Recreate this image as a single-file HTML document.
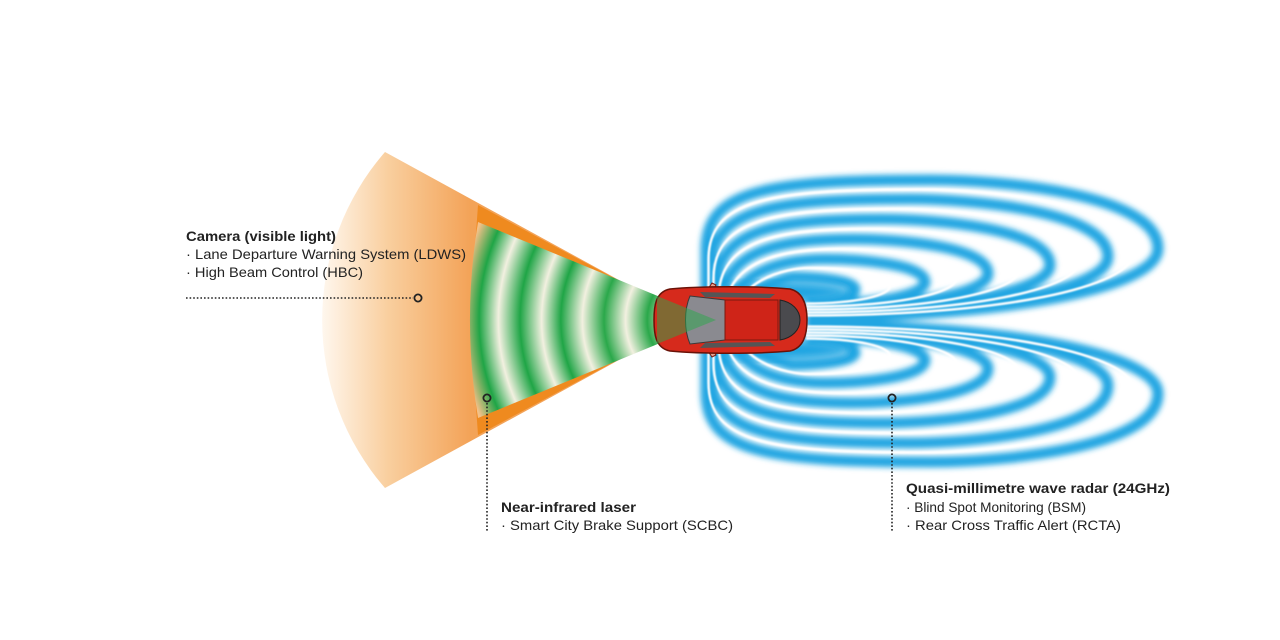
<!DOCTYPE html>
<html><head><meta charset="utf-8"><style>
html,body{margin:0;padding:0;background:#fff;}
svg{display:block;}
text{font-family:"Liberation Sans",sans-serif;fill:#222;}
</style></head><body>
<svg id="s" width="1280" height="640" viewBox="0 0 1280 640" xmlns="http://www.w3.org/2000/svg">
<defs>
<linearGradient id="og" x1="320" y1="0" x2="470" y2="0" gradientUnits="userSpaceOnUse">
<stop offset="0" stop-color="#fff8f0"/><stop offset="0.45" stop-color="#f9cf9f"/><stop offset="1" stop-color="#f3a358"/>
</linearGradient>
<radialGradient id="gg" cx="700" cy="320" r="240" gradientUnits="userSpaceOnUse">
<stop offset="0" stop-color="#9ed39a"/>
<stop offset="0.13" stop-color="#f2f0e0"/>
<stop offset="0.22" stop-color="#2aa84a"/>
<stop offset="0.31" stop-color="#f2f0e0"/>
<stop offset="0.40" stop-color="#2aa84a"/>
<stop offset="0.49" stop-color="#f2f0e0"/>
<stop offset="0.58" stop-color="#1fa546"/>
<stop offset="0.66" stop-color="#f2f0e0"/>
<stop offset="0.75" stop-color="#1fa546"/>
<stop offset="0.84" stop-color="#f2f0e0"/>
<stop offset="0.92" stop-color="#1fa546"/>
<stop offset="1" stop-color="#f4c089"/>
</radialGradient>
<filter id="bl" x="-10%" y="-20%" width="120%" height="140%"><feGaussianBlur stdDeviation="3"/></filter>
<filter id="bw" x="-10%" y="-20%" width="120%" height="140%"><feGaussianBlur stdDeviation="0.8"/></filter>
<filter id="bl2"><feGaussianBlur stdDeviation="5"/></filter>
</defs>

<!-- radar -->
<g id="radar" filter="url(#bl)" fill="none" stroke="#22a6e2" stroke-width="11"></g>
<ellipse cx="785" cy="292" rx="65" ry="11" fill="#1ca4e2" filter="url(#bl2)"/>
<ellipse cx="785" cy="350" rx="65" ry="11" fill="#1ca4e2" filter="url(#bl2)"/>
<g id="radarw" filter="url(#bw)" fill="none" stroke="#fff" stroke-width="2.5"></g>

<!-- camera cone -->
<path d="M692,320 L385,152 A256,256 0 0 0 385,488 Z" fill="url(#og)"/>
<path d="M692,320 L478,205 L470,320 L478,435 Z" fill="#ef8a1f"/>
<path d="M716,320 L478,222 A604,604 0 0 0 478,418 Z" fill="url(#gg)"/>

<!-- car -->
<g>
<path d="M706,292 L712,283 L716,285 L712,292Z M706,348 L712,357 L716,355 L712,348Z" fill="#e8a090" stroke="#7a1a10" stroke-width="1"/>
<path d="M670,289 C700,286 760,286 790,289 C803,292 807,305 807,320 C807,336 803,348 790,351 C760,354 700,354 670,351 C655,348 654,333 654,320 C654,307 655,292 670,289Z" fill="#d62a1c" stroke="#6a1208" stroke-width="1.5"/>
<path d="M690,296 L725,300 L725,340 L690,344 C684,330 684,310 690,296Z" fill="#8a8a90" stroke="#3a3a3a"/>
<path d="M725,300 L778,300 L778,340 L725,340Z" fill="#cf2418" stroke="#7a1a10"/>
<path d="M780,300 C792,302 800,310 800,320 C800,330 792,338 780,340 Z" fill="#4a4a4e" stroke="#222"/>
<path d="M700,292 L775,294 L770,298 L705,297Z M700,348 L775,346 L770,342 L705,343Z" fill="#555"/>
<path d="M716,320 L657,296 L657,344Z" fill="#2aa84a" opacity="0.5"/>
</g>

<!-- labels -->
<text x="186" y="241" font-size="14" font-weight="bold" textLength="150" lengthAdjust="spacingAndGlyphs">Camera (visible light)</text>
<text x="186" y="259" font-size="14" textLength="280" lengthAdjust="spacingAndGlyphs">· Lane Departure Warning System (LDWS)</text>
<text x="186" y="277" font-size="14" textLength="177" lengthAdjust="spacingAndGlyphs">· High Beam Control (HBC)</text>
<line x1="186" y1="298" x2="413" y2="298" stroke="#222" stroke-width="1.6" stroke-dasharray="1.6,2"/>
<circle cx="418" cy="298" r="3.6" fill="none" stroke="#222" stroke-width="1.8"/>

<circle cx="487" cy="398" r="3.6" fill="none" stroke="#222" stroke-width="1.8"/>
<line x1="487" y1="403" x2="487" y2="532" stroke="#222" stroke-width="1.6" stroke-dasharray="1.6,2"/>
<text x="501" y="512" font-size="14" font-weight="bold" textLength="135" lengthAdjust="spacingAndGlyphs">Near-infrared laser</text>
<text x="501" y="530" font-size="14" textLength="232" lengthAdjust="spacingAndGlyphs">· Smart City Brake Support (SCBC)</text>

<circle cx="892" cy="398" r="3.6" fill="none" stroke="#222" stroke-width="1.8"/>
<line x1="892" y1="403" x2="892" y2="532" stroke="#222" stroke-width="1.6" stroke-dasharray="1.6,2"/>
<text x="906" y="493" font-size="14" font-weight="bold" textLength="264" lengthAdjust="spacingAndGlyphs">Quasi-millimetre wave radar (24GHz)</text>
<text x="906" y="512" font-size="14" textLength="180" lengthAdjust="spacingAndGlyphs">· Blind Spot Monitoring (BSM)</text>
<text x="906" y="530" font-size="14" textLength="215" lengthAdjust="spacingAndGlyphs">· Rear Cross Traffic Alert (RCTA)</text>
</svg>
<script>
(function(){
function ring(x,t,l,e){
 var m=(t+e)/2, s='';
 s+='M806,'+e+' C'+(x*0.6+806*0.4)+','+e+' '+x+','+(e-(e-m)*0.45)+' '+x+','+m+
   ' C'+x+','+(t+(m-t)*0.2)+' '+(x-(x-l)*0.35)+','+t+' '+((x+l)/2)+','+t+
   ' C'+(l+60)+','+t+' '+l+','+(t+10)+' '+l+','+(t+70)+' L'+l+',321 ';
 var e2=642-e,t2=642-t,m2=(t2+e2)/2;
 s+='M806,'+e2+' C'+(x*0.6+806*0.4)+','+e2+' '+x+','+(e2-(e2-m2)*0.45)+' '+x+','+m2+
   ' C'+x+','+(t2-(t2-m2)*0.2)+' '+(x-(x-l)*0.35)+','+t2+' '+((x+l)/2)+','+t2+
   ' C'+(l+60)+','+t2+' '+l+','+(t2-10)+' '+l+','+(t2-70)+' L'+l+',321 ';
 return s;
}
var X=[1158,1108,1050,988,925,855],T=[180,199,219,239,259,277],L=[706,711,716,721,726,731],E=[317,314,311,308,305,302];
var d='',w='';
for(var i=0;i<6;i++){
 d+=ring(X[i],T[i],L[i],E[i]);
 if(i<5) w+=ring((X[i]+X[i+1])/2,(T[i]+T[i+1])/2,(L[i]+L[i+1])/2,(E[i]+E[i+1])/2);
}
function add(id,dd){var p=document.createElementNS('http://www.w3.org/2000/svg','path');p.setAttribute('d',dd);document.getElementById(id).appendChild(p);}
add('radar',d);add('radarw',w);
})();
</script>
</body></html>
